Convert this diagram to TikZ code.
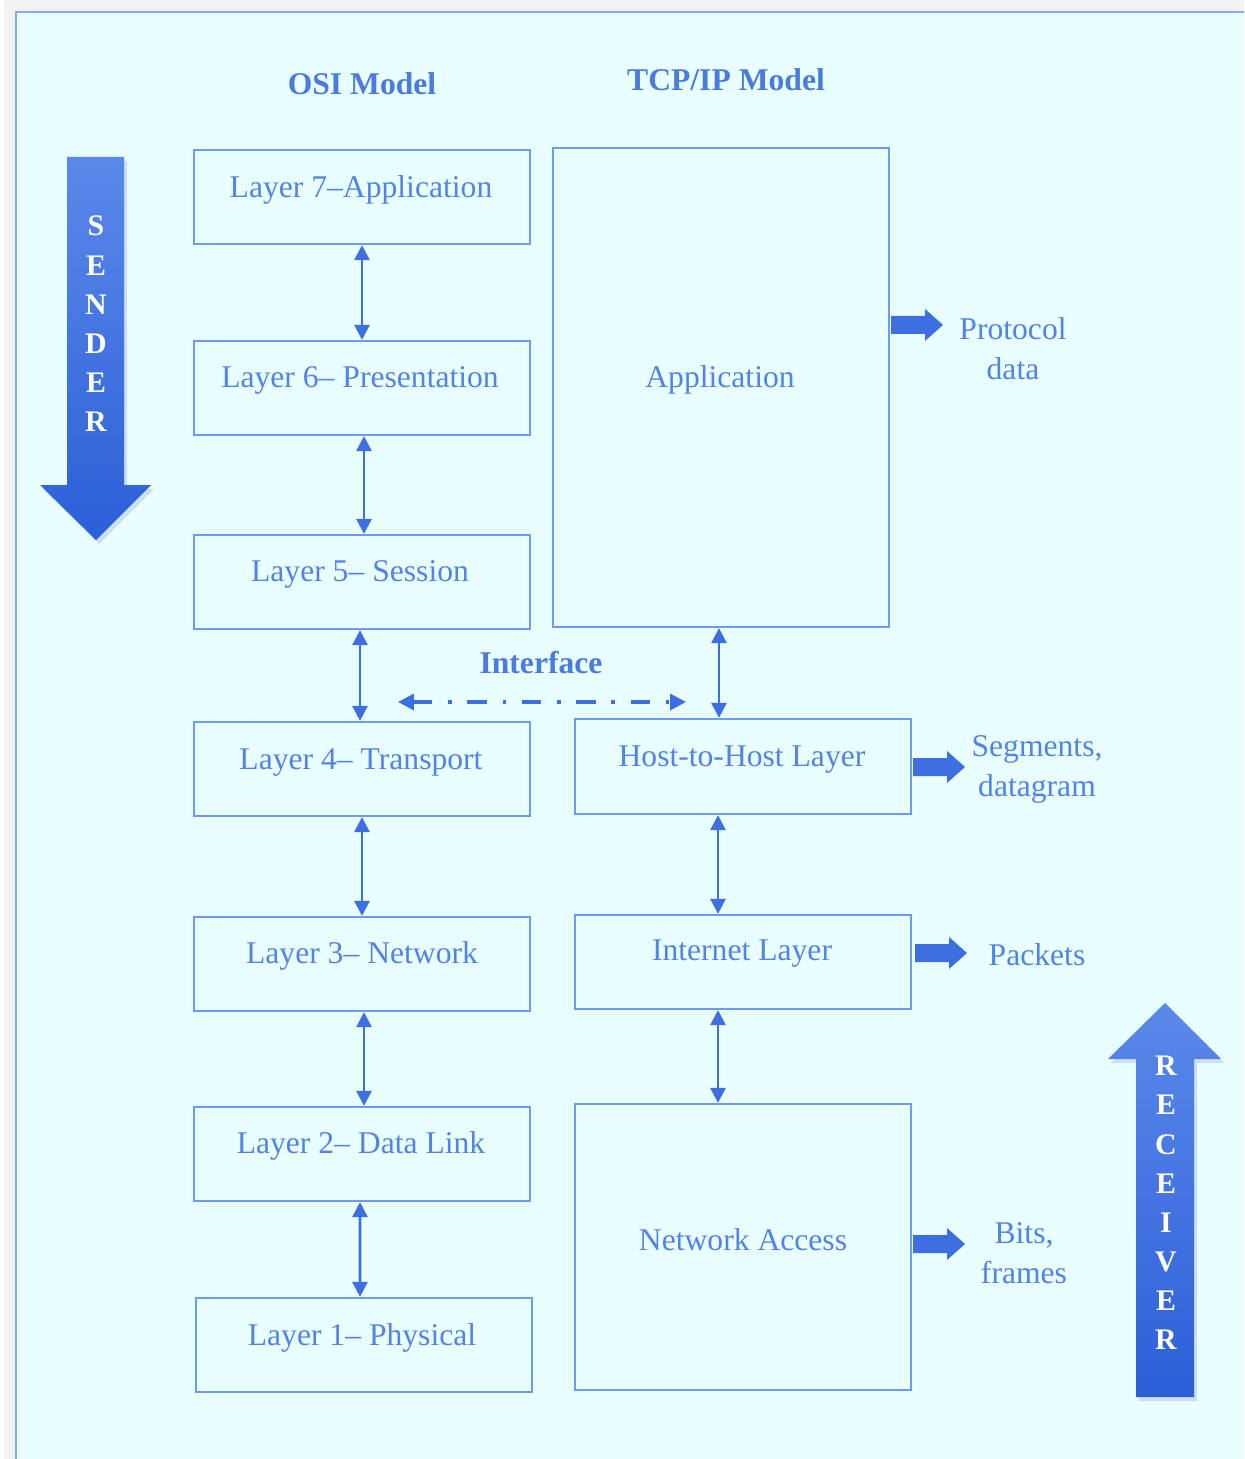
\documentclass[tikz,border=0pt]{standalone}
\usepackage{fontspec}
\setmainfont{Liberation Serif}
\usetikzlibrary{arrows.meta,calc}

\definecolor{pagebg}{HTML}{F3F3F3}
\definecolor{panelbg}{HTML}{E9FEFF}
\definecolor{panelline}{HTML}{86AAF5}
\definecolor{boxline}{HTML}{6E9BF0}
\definecolor{boxtext}{HTML}{5283E6}
\definecolor{titleblue}{HTML}{4A7BDE}
\definecolor{arrowblue}{HTML}{3D6FE0}
\definecolor{bigtop}{HTML}{5B89EA}
\definecolor{bigbot}{HTML}{2C5FD7}

\tikzset{
  layerbox/.style={draw=boxline, line width=1.3pt, inner sep=0pt, minimum width=6.72cm},
  boxlabel/.style={text=boxtext, font=\fontsize{18}{22}\selectfont, inner sep=0pt},
  sidelabel/.style={text=boxtext, font=\fontsize{18}{22.7}\selectfont, inner sep=0pt, align=center},
  heading/.style={text=titleblue, font=\bfseries\fontsize{18}{22}\selectfont, inner sep=0pt},
  link/.style={draw=arrowblue, line width=1.6pt,
    {Triangle[width=8.5pt,length=8.5pt]}-{Triangle[width=8.5pt,length=8.5pt]}},
  ifacelink/.style={draw=arrowblue, line width=2pt,
    dash pattern=on 11pt off 9pt on 2pt off 9pt,
    {Triangle[width=9pt,length=9pt]}-{Triangle[width=9pt,length=9pt]}},
  fatfill/.style={fill=arrowblue},
  bigletters/.style={text=white, font=\bfseries\fontsize{17}{22.3}\selectfont, align=center, inner sep=0pt},
  bigshadow/.style={fill=black!60!blue, fill opacity=0.12},
}

% short fat arrow pointing right, starting at (#1,#2)
\newcommand\fatarrow[2]{%
  \fill[fatfill] (#1,#2) ++(0,-9) -- ++(34,0) -- ++(0,-7) -- ++(18,16)
    -- ++(-18,16) -- ++(0,-7) -- ++(-34,0) -- cycle;}

\begin{document}
\begin{tikzpicture}[x=0.02cm,y=-0.02cm]
\useasboundingbox (0,0) rectangle (1244,1459);
\clip (0,0) rectangle (1244,1459);

% page and panel
\fill[pagebg] (0,0) rectangle (1244,1459);
\fill[white] (0,0) rectangle (4,1459);
\filldraw[fill=panelbg, draw=panelline, line width=1.2pt] (16,12) rectangle (1260,1475);

% headings
\node[heading] (osititle) at (362,84) {OSI Model};
\node[heading] (tcptitle) at (726,80) {TCP/IP Model};

% OSI layers
\node[layerbox, minimum height=1.88cm] (l7) at (362,197) {};
\node[layerbox, minimum height=1.88cm] (l6) at (362,388) {};
\node[layerbox, minimum height=1.88cm] (l5) at (362,582) {};
\node[layerbox, minimum height=1.88cm] (l4) at (362,769) {};
\node[layerbox, minimum height=1.88cm] (l3) at (362,964) {};
\node[layerbox, minimum height=1.88cm] (l2) at (362,1154) {};
\node[layerbox, minimum height=1.88cm] (l1) at (364,1345) {};

\node[boxlabel] (t7) at (361,190) {Layer 7--Application};
\node[boxlabel] (t6) at (360,380) {Layer 6-- Presentation};
\node[boxlabel] (t5) at (360,574) {Layer 5-- Session};
\node[boxlabel] (t4) at (361,762) {Layer 4-- Transport};
\node[boxlabel] (t3) at (362,956) {Layer 3-- Network};
\node[boxlabel] (t2) at (361,1146) {Layer 2-- Data Link};
\node[boxlabel] (t1) at (362,1338) {Layer 1-- Physical};

% TCP/IP layers
\node[layerbox, minimum height=9.58cm] (app) at (721,387.5) {};
\node[layerbox, minimum height=1.9cm] (h2h) at (743,766.5) {};
\node[layerbox, minimum height=1.88cm] (inet) at (743,962) {};
\node[layerbox, minimum height=5.72cm] (nacc) at (743,1247) {};

\node[boxlabel] (tapp) at (720,380) {Application};
\node[boxlabel] (th2h) at (742,760) {Host-to-Host Layer};
\node[boxlabel] (tinet) at (742,954) {Internet Layer};
\node[boxlabel] (tnacc) at (743,1240) {Network Access};

% links between OSI layers
\draw[link] (l7.south) -- (l6.north);
\draw[link] ([xshift=0.04cm]l6.south) -- ([xshift=0.04cm]l5.north);
\draw[link] ([xshift=-0.04cm]l5.south) -- ([xshift=-0.04cm]l4.north);
\draw[link] (l4.south) -- (l3.north);
\draw[link] ([xshift=0.04cm]l3.south) -- ([xshift=0.04cm]l2.north);
\draw[link] ([xshift=-0.04cm]l2.south) -- ([xshift=-0.08cm]l1.north);

% links between TCP/IP layers
\coordinate (appfoot) at ([xshift=-0.04cm]app.south);
\draw[link] (appfoot) -- (appfoot |- h2h.north);
\draw[link] ([xshift=-0.5cm]h2h.south) -- ([xshift=-0.5cm]inet.north);
\draw[link] ([xshift=-0.5cm]inet.south) -- ([xshift=-0.5cm]nacc.north);

% interface
\node[heading] (iface) at (541,663) {Interface};
\coordinate (ifleft) at (398,702);
\coordinate (ifright) at (686,702);
\draw[ifacelink] (ifleft) -- (ifright);

% data units
\fatarrow{891}{325}
\fatarrow{913}{767}
\fatarrow{915}{953}
\fatarrow{913}{1244}
\node[sidelabel] (pdu1) at (1013,349) {Protocol\\data};
\node[sidelabel] (pdu2) at (1037,769) {Segments,\\datagram};
\node[sidelabel] (pdu3) at (1037,955) {Packets};
\node[sidelabel] (pdu4) at (1024,1253) {Bits,\\frames};

% sender arrow
\fill[bigshadow] (70,161) -- (127,161) -- (127,489) -- (154,489) -- (99,544) -- (43,489) -- (70,489) -- cycle;
\shade[top color=bigtop, bottom color=bigbot]
  (67,157) -- (124,157) -- (124,485) -- (151,485) -- (96,540) -- (40,485) -- (67,485) -- cycle;
\node[bigletters] (sender) at (96,324) {S\\E\\N\\D\\E\\R};

% receiver arrow
\fill[bigshadow] (1168,1007) -- (1224,1063) -- (1197,1063) -- (1197,1401) -- (1139,1401) -- (1139,1063) -- (1111,1063) -- cycle;
\shade[top color=bigtop, bottom color=bigbot]
  (1165,1003) -- (1221,1059) -- (1194,1059) -- (1194,1397) -- (1136,1397) -- (1136,1059) -- (1108,1059) -- cycle;
\node[bigletters] (receiver) at (1166,1203) {R\\E\\C\\E\\I\\V\\E\\R};
\end{tikzpicture}
\end{document}
